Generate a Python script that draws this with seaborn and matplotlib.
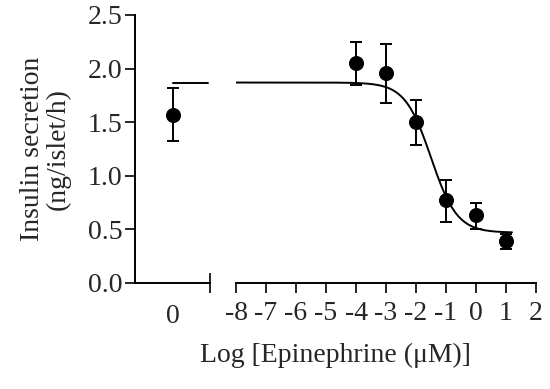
import numpy as np
import pandas as pd
import matplotlib
matplotlib.use("Agg")
import matplotlib.pyplot as plt
import seaborn as sns

# ---- data ----
log_conc = [-4, -3, -2, -1, 0, 1]
insulin = [2.05, 1.96, 1.50, 0.77, 0.63, 0.39]
err_low = [1.85, 1.68, 1.29, 0.57, 0.50, 0.32]
err_high = [2.245, 2.23, 1.71, 0.96, 0.75, 0.46]

control_x = [0]
control_y = [1.57]
control_low = [1.32]
control_high = [1.82]

# fitted curve parameters (4-parameter logistic)
fit_top = 1.87
fit_bottom = 0.47
fit_logic50 = -1.5
fit_hill = 1.0

x_ticks_right = [-8, -7, -6, -5, -4, -3, -2, -1, 0, 1, 2]
x_tick_labels_right = ["-8", "-7", "-6", "-5", "-4", "-3", "-2", "-1", "0", "1", "2"]
y_ticks = [0.0, 0.5, 1.0, 1.5, 2.0, 2.5]
y_tick_labels = ["0.0", "0.5", "1.0", "1.5", "2.0", "2.5"]

sns.set_style("ticks")
plt.rcParams['font.family'] = ['Liberation Serif', 'DejaVu Serif']
FS = 20
LW = 1.4

fig = plt.figure(figsize=(5.5, 3.89), dpi=100)
W, H = 550, 389
bottom = 1 - 283 / H
height = (283 - 15) / H
axL = fig.add_axes([135 / W, bottom, 75 / W, height])
axR = fig.add_axes([236 / W, bottom, 300 / W, height])

for ax in (axL, axR):
    ax.set_ylim(0, 2.5)
    for s in ax.spines.values():
        s.set_linewidth(LW)
        s.set_color("black")
    ax.spines["top"].set_visible(False)
    ax.spines["right"].set_visible(False)
    ax.set_facecolor("none")

# ---- left panel ----
axL.set_xlim(-1, 1)
axL.set_yticks(y_ticks)
axL.set_yticklabels(y_tick_labels, fontsize=FS)
axL.tick_params(axis="y", direction="out", length=7, width=LW, pad=2)
axL.set_xticks(control_x)
axL.set_xticklabels(["0"], fontsize=FS)
axL.tick_params(axis="x", which="major", length=0, pad=15)
axL.set_xticks([1], minor=True)
axL.tick_params(axis="x", which="minor", direction="inout", length=14, width=LW)

ctrl_df = pd.DataFrame({"x": [control_x[0], 0.95], "y": [fit_top, fit_top]})
sns.lineplot(data=ctrl_df, x="x", y="y", ax=axL, color="black", linewidth=LW)
axL.errorbar(control_x, control_y,
             yerr=[np.array(control_y) - np.array(control_low),
                   np.array(control_high) - np.array(control_y)],
             fmt="none", ecolor="black", elinewidth=LW, capsize=4.5, capthick=LW)
sns.scatterplot(x=control_x, y=control_y, ax=axL, color="black", s=100,
                edgecolor="black", zorder=5)

axL.set_xlabel("")
axL.set_ylabel("Insulin secretion\n(ng/islet/h)", fontsize=FS, labelpad=12,
               linespacing=1.05)

# ---- right panel ----
axR.set_xlim(-8, 2)
axR.spines["left"].set_visible(False)
axR.set_yticks([])
axR.set_xticks(x_ticks_right)
axR.set_xticklabels(x_tick_labels_right, fontsize=FS)
axR.tick_params(axis="x", which="major", direction="out", length=7, width=LW, pad=6)
axR.set_xticks([-8], minor=True)
axR.tick_params(axis="x", which="minor", direction="inout", length=14, width=LW)

xs = np.linspace(-8, 1.2, 300)
ys = fit_bottom + (fit_top - fit_bottom) / (1 + 10 ** ((xs - fit_logic50) * fit_hill))
curve_df = pd.DataFrame({"x": xs, "y": ys})
sns.lineplot(data=curve_df, x="x", y="y", ax=axR, color="black", linewidth=LW)

axR.errorbar(log_conc, insulin,
             yerr=[np.array(insulin) - np.array(err_low),
                   np.array(err_high) - np.array(insulin)],
             fmt="none", ecolor="black", elinewidth=LW, capsize=4.5, capthick=LW)
sns.scatterplot(x=log_conc, y=insulin, ax=axR, color="black", s=100,
                edgecolor="black", zorder=5)
axR.set_xlabel("")
axR.set_ylabel("")

fig.text(335 / W, 1 - 355 / H, "Log [Epinephrine (\u03bcM)]", fontsize=FS,
         ha="center", va="center")

fig.savefig("out.png", dpi=100)
